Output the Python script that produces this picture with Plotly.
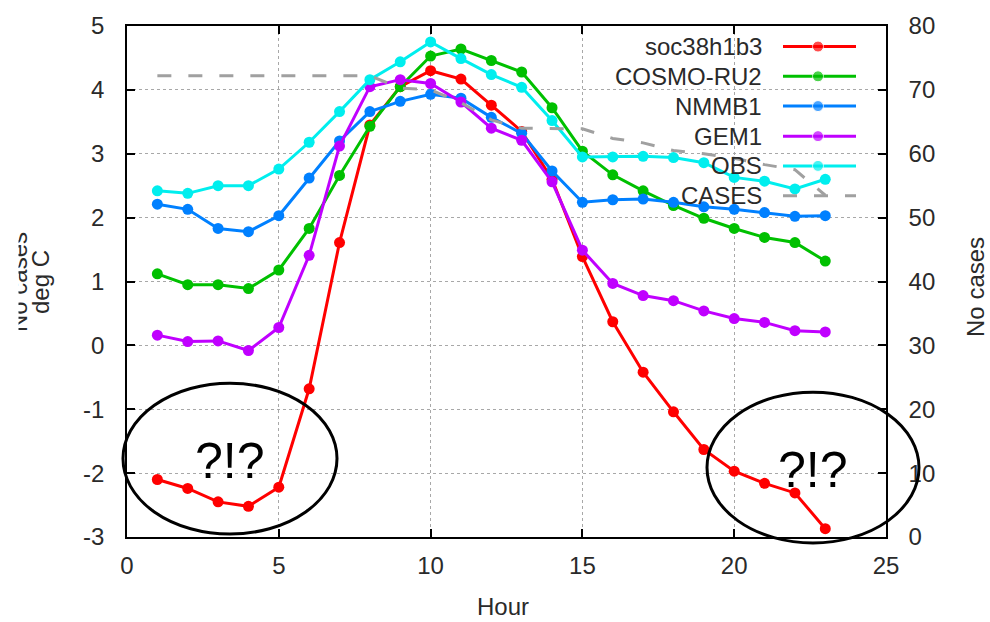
import plotly.graph_objects as go

hours = list(range(1, 24))
soc38h1b3 = [-2.10, -2.24, -2.45, -2.52, -2.22, -0.68, 1.61, 3.45, 4.05, 4.30, 4.17, 3.76, 3.35, 2.60, 1.39, 0.37,
             -0.42, -1.04, -1.63, -1.97, -2.16, -2.31, -2.87]
cosmo_ru2 = [1.12, 0.95, 0.95, 0.89, 1.18, 1.83, 2.66, 3.43, 4.05, 4.53, 4.64, 4.46, 4.28, 3.72, 3.04, 2.67,
             2.42, 2.19, 1.99, 1.83, 1.69, 1.61, 1.32]
nmmb1 = [2.21, 2.13, 1.83, 1.78, 2.03, 2.62, 3.20, 3.66, 3.82, 3.93, 3.87, 3.57, 3.32, 2.73, 2.24, 2.28,
         2.29, 2.24, 2.17, 2.13, 2.08, 2.02, 2.03]
gem1 = [0.16, 0.06, 0.07, -0.08, 0.28, 1.41, 3.12, 4.05, 4.16, 4.10, 3.81, 3.40, 3.21, 2.56, 1.49, 0.97,
        0.78, 0.70, 0.54, 0.42, 0.36, 0.23, 0.21]
obs = [2.42, 2.38, 2.50, 2.50, 2.76, 3.18, 3.66, 4.16, 4.44, 4.75, 4.49, 4.24, 4.04, 3.52, 2.95, 2.95,
       2.96, 2.94, 2.86, 2.63, 2.57, 2.45, 2.60]
cases = [72.2, 72.2, 72.2, 72.2, 72.2, 72.2, 72.2, 72.2, 70.3, 70.0, 68.0, 65.3, 64.0, 64.0, 63.9, 62.4,
         61.7, 60.5, 60.0, 59.3, 58.3, 57.5, 53.5]

series_names = ["soc38h1b3", "COSMO-RU2", "NMMB1", "GEM1", "OBS"]
series_vals = [soc38h1b3, cosmo_ru2, nmmb1, gem1, obs]
colors = ["#ff0000", "#00c000", "#0080ff", "#c000ff", "#00eeee"]
cases_color = "#a0a0a0"

y_tickvals = [-3, -2, -1, 0, 1, 2, 3, 4, 5]
y_ticktext = ["-3", "-2", "-1", "0", "1", "2", "3", "4", "5"]

FONT = "Liberation Sans, Arial, sans-serif"
TXT = "#2a2a2a"

# plot area pixel geometry
L, R, T, B = 127, 886, 22, 537
W, H = R - L, B - T


def px(x):
    return (x - L) / W


def py(y):
    return (B - y) / H


fig = go.Figure()

fig.add_trace(go.Scatter(x=hours, y=cases, mode="lines", yaxis="y2", name="CASES",
                         line=dict(color=cases_color, width=3, dash="14px,17px"), showlegend=False))

for name, vals, c in zip(series_names, series_vals, colors):
    fig.add_trace(go.Scatter(x=hours, y=vals, mode="lines+markers", name=name,
                             line=dict(color=c, width=3),
                             marker=dict(color=c, size=11, symbol="circle"), showlegend=False))

# custom legend (text left of sample, gnuplot-style) on an auxiliary 0..1 axis
legend_rows = [42.7, 72.7, 102.7, 133, 163, 193]
legend_names = series_names + ["CASES"]
legend_colors = colors + [cases_color]
sx0, sx1, smid = px(783), px(856), px(818)
for nm, c, ry in zip(legend_names, legend_colors, legend_rows):
    yy = py(ry)
    if nm == "CASES":
        fig.add_trace(go.Scatter(x=[sx0, sx1], y=[yy, yy], mode="lines", xaxis="x3", yaxis="y3",
                                 line=dict(color=c, width=3, dash="14px,17px"), showlegend=False,
                                 hoverinfo="skip"))
    else:
        fig.add_trace(go.Scatter(x=[sx0, smid, sx1], y=[yy, yy, yy], mode="lines+markers",
                                 xaxis="x3", yaxis="y3",
                                 line=dict(color=c, width=3),
                                 marker=dict(color=c, size=[0, 11, 0]), showlegend=False,
                                 hoverinfo="skip"))
    fig.add_annotation(x=px(764), y=yy, xref="paper", yref="paper", text=nm, showarrow=False,
                       xanchor="right", yanchor="middle", font=dict(family=FONT, size=24, color=TXT))

axis_common = dict(showline=True, linecolor="black", linewidth=1.5, ticks="inside", ticklen=8,
                   tickcolor="black", tickwidth=1.5, zeroline=False,
                   tickfont=dict(family=FONT, size=24, color=TXT))

fig.update_layout(
    width=990, height=622,
    margin=dict(l=L, r=990 - R, t=T, b=622 - B),
    plot_bgcolor="white", paper_bgcolor="white",
    showlegend=False,
    xaxis=dict(range=[0, 25], dtick=5, mirror="ticks", showgrid=True, gridcolor="#a8a8a8",
               griddash="dot", gridwidth=1, ticklabelstandoff=6, **axis_common),
    yaxis=dict(range=[-3, 5], tickmode="array", tickvals=y_tickvals, ticktext=y_ticktext,
               mirror=True, showgrid=True, gridcolor="#a8a8a8",
               griddash="dot", gridwidth=1, ticklabelstandoff=16, **axis_common),
    yaxis2=dict(range=[0, 80], dtick=10, overlaying="y", side="right", showgrid=False,
                ticklabelstandoff=16, **axis_common),
    xaxis3=dict(range=[0, 1], overlaying="x", visible=False, fixedrange=True),
    yaxis3=dict(range=[0, 1], overlaying="y", visible=False, fixedrange=True),
)

# axis titles
title_font = dict(family=FONT, size=24, color=TXT)
ann = dict(xref="paper", yref="paper", showarrow=False, xanchor="center", yanchor="middle")
fig.add_annotation(x=px(19), y=py(280), text="No cases", textangle=-90, font=title_font, **ann)
fig.add_annotation(x=px(8.5), y=py(280), text=" ", width=17, height=160, bgcolor="white", **ann)
fig.add_annotation(x=px(41), y=py(280), text="deg C", textangle=-90, font=title_font, **ann)
fig.add_annotation(x=px(976), y=py(285), text="No cases", textangle=-90, font=title_font, **ann)
fig.add_annotation(x=px(503), y=py(607), text="Hour", font=title_font, **ann)

# highlight ellipses and remarks
for (x0, x1, y0, y1), (tx, ty) in [((123, 337, 382, 534), (230, 460)), ((707, 919, 391, 543), (813, 469))]:
    fig.add_shape(type="circle", xref="paper", yref="paper", x0=px(x0), x1=px(x1), y0=py(y1), y1=py(y0),
                  line=dict(color="black", width=3), layer="above")
    fig.add_annotation(x=px(tx), y=py(ty), text="?!?", font=dict(family=FONT, size=50, color="black"), **ann)

fig.write_html("out.html")
